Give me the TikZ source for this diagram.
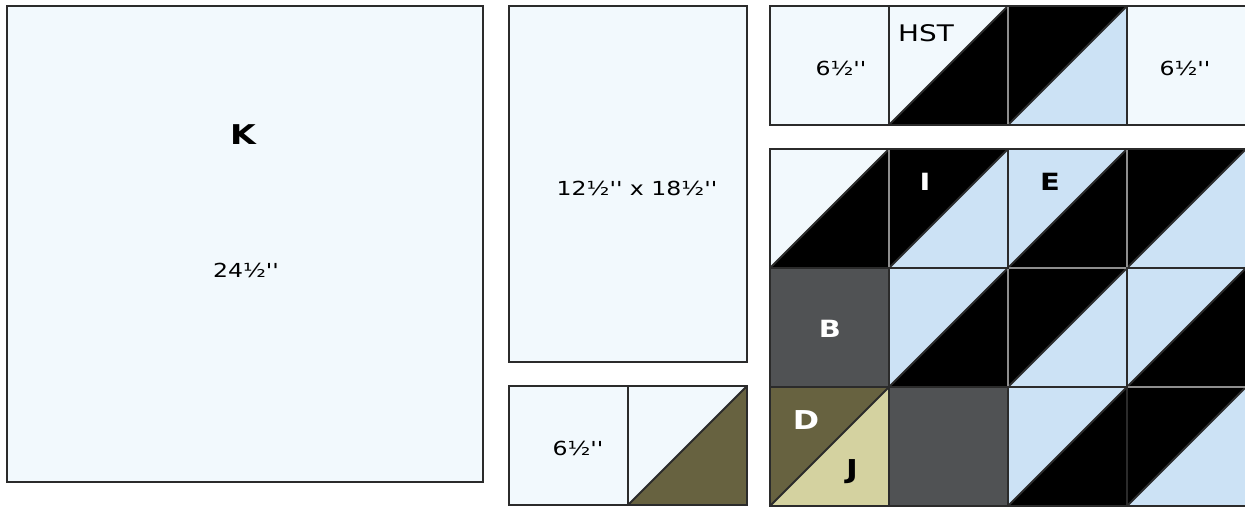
\documentclass[tikz,border=0pt]{standalone}
\usepackage{fontspec}
\setmainfont{DejaVu Sans}[FakeStretch=1.22, Ligatures=TeXOff]
\usetikzlibrary{positioning}
\definecolor{paleblue}{HTML}{F2F9FD}
\definecolor{skyblue}{HTML}{CCE2F5}
\definecolor{charcoal}{HTML}{505254}
\definecolor{olive}{HTML}{676240}
\definecolor{tan}{HTML}{D4D2A0}
\definecolor{outline}{HTML}{2B2B2B}
\definecolor{seamgray}{HTML}{8E8E8E}

% half-square triangle: x, y (top left), upper-left colour, lower-right colour
\newcommand{\hstblock}[4]{%
  \fill[#3] (#1,#2) -- ++(119,0) -- ++(-119,119) -- cycle;
  \fill[#4] (#1+119,#2) -- ++(0,119) -- ++(-119,0) -- cycle;
  \draw[seam] (#1,#2+119) -- ++(119,-119);
  \draw[seam] (#1,#2) rectangle ++(119,119);
}

\begin{document}
\begin{tikzpicture}[
  x=0.02cm, y=-0.02cm,
  seam/.style={draw=outline, line width=1.1pt},
  graycut/.style={draw=seamgray, line width=1.1pt},
  plain/.style={seam, fill=paleblue},
  size/.style={font=\fontsize{11}{13}\selectfont, text=black, inner sep=0pt},
  letter/.style={font=\fontsize{13.5}{16}\selectfont\bfseries, inner sep=0pt},
]
\useasboundingbox (0,0) rectangle (1245,508);

% =============================================
% LEFT: big square K
% =============================================
\draw[plain] (7,6) rectangle (483,482);
\node[letter, font=\fontsize{15.5}{18}\selectfont\bfseries] (klab) at (243,135) {K};
\node[size] (ksize) at (246,270) {24½''};

% =============================================
% MIDDLE: rectangle and small pair
% =============================================
\draw[plain] (509,6) rectangle (747,362);
\node[size] (rectsize) at (637,188) {12½'' x 18½''};

\draw[plain] (509,386) rectangle (628,505);
\hstblock{628}{386}{paleblue}{olive}
\node[size] (pairsize) at (578,448) {6½''};

% =============================================
% RIGHT TOP: strip
% =============================================
\draw[plain] (770,6) rectangle (889,125);
\hstblock{889}{6}{paleblue}{black}
\hstblock{1008}{6}{black}{skyblue}
\draw[plain] (1127,6) rectangle (1246,125);
\node[size] (stripleft) at (841,68) {6½''};
\node[size] (stripright) at (1185,68) {6½''};
\node[font=\fontsize{13}{15}\selectfont, inner sep=0pt] (hstlab) at (926,33) {HST};

% =============================================
% RIGHT BOTTOM: 4 x 3 grid
% =============================================
% row 1
\hstblock{770}{149}{paleblue}{black}
\hstblock{889}{149}{black}{skyblue}
\hstblock{1008}{149}{skyblue}{black}
\hstblock{1127}{149}{black}{skyblue}
% row 2
\draw[seam, fill=charcoal] (770,268) rectangle (889,387);
\hstblock{889}{268}{skyblue}{black}
\hstblock{1008}{268}{black}{skyblue}
\hstblock{1127}{268}{skyblue}{black}
% row 3
\hstblock{770}{387}{olive}{tan}
\draw[seam, fill=charcoal] (889,387) rectangle (1008,506);
\hstblock{1008}{387}{skyblue}{black}
\hstblock{1127}{387}{black}{skyblue}

% lighter seams
\draw[graycut] (889,150) -- (889,267);
\draw[graycut] (1127,150) -- (1127,267);
\draw[graycut] (1008,269) -- (1008,386);
\draw[graycut] (1009,268) -- (1126,268);
\draw[graycut] (1128,387) -- (1246,387);
\draw[graycut] (1008,7) -- (1008,124);

\node[letter, text=white] (ilab) at (925,182) {I};
\node[letter] (elab) at (1050,182) {E};
\node[letter, text=white] (blab) at (830,329) {B};
\node[letter, text=white, font=\fontsize{14.8}{17}\selectfont\bfseries] (dlab) at (806,420) {D};
\node[letter, font=\fontsize{14.8}{17}\selectfont\bfseries] (jlab) at (852,472) {J};

\end{tikzpicture}
\end{document}
